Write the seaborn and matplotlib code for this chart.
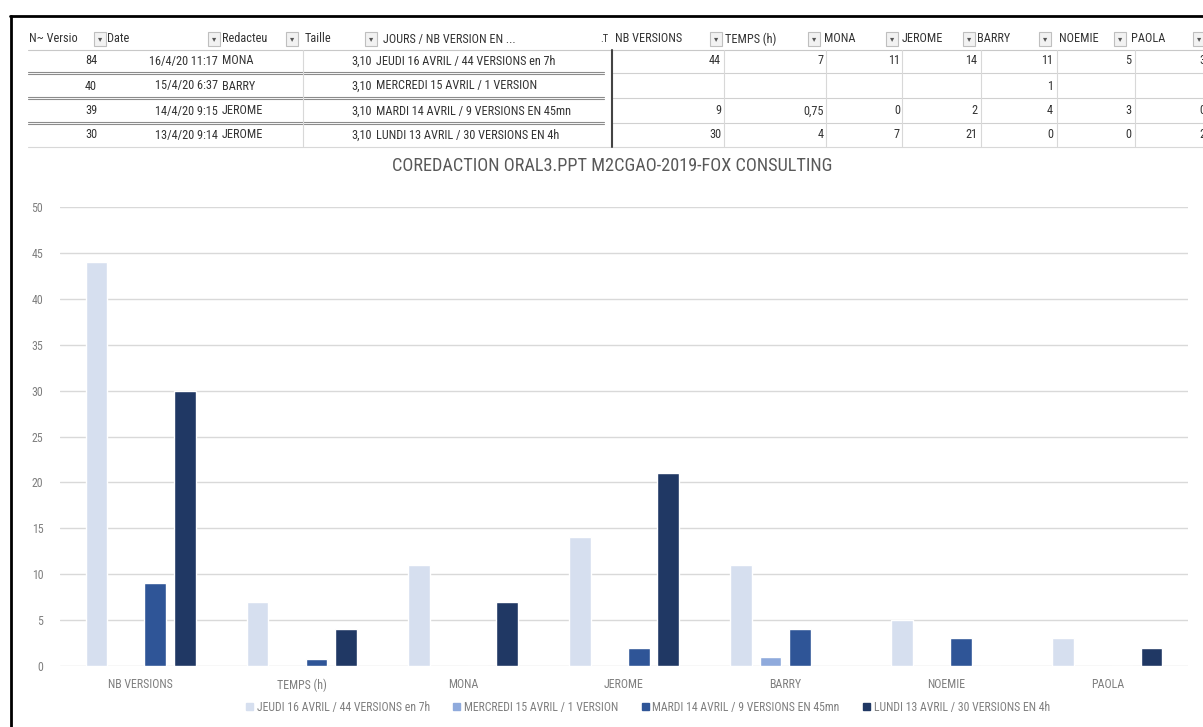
import numpy as np
import pandas as pd
import matplotlib
matplotlib.use("Agg")
import matplotlib.pyplot as plt
import seaborn as sns
from matplotlib import font_manager as fm
from matplotlib.patches import Rectangle
from matplotlib.lines import Line2D
from matplotlib.textpath import TextPath

# ---------------- data ----------------
categories = ["NB VERSIONS", "TEMPS (h)", "MONA", "JEROME", "BARRY", "NOEMIE", "PAOLA"]
series_names = [
    "JEUDI 16 AVRIL / 44 VERSIONS en 7h",
    "MERCREDI 15 AVRIL / 1 VERSION",
    "MARDI 14 AVRIL / 9 VERSIONS EN 45mn",
    "LUNDI 13 AVRIL / 30 VERSIONS EN 4h",
]
jeudi = [44, 7, 11, 14, 11, 5, 3]
mercredi = [np.nan, np.nan, np.nan, np.nan, 1, np.nan, np.nan]
mardi = [9, 0.75, 0, 2, 4, 3, 0]
lundi = [30, 4, 7, 21, 0, 0, 2]
version_nums = [84, 40, 39, 30]
dates = ["16/4/20 11:17", "15/4/20 6:37", "14/4/20 9:15", "13/4/20 9:14"]
redacteurs = ["MONA", "BARRY", "JEROME", "JEROME"]
tailles = ["3,10", "3,10", "3,10", "3,10"]
left_headers = ["N~ Versio", "Date", "Redacteu", "Taille", "JOURS / NB VERSION EN ..."]
title = "COREDACTION ORAL3.PPT M2CGAO-2019-FOX CONSULTING"
yticks = [0, 5, 10, 15, 20, 25, 30, 35, 40, 45, 50]
colors = ["#d6dfef", "#8faadc", "#2f5597", "#203864"]

# ---------------- fonts ----------------
sns.set_theme(style="white")
plt.rcParams["font.family"] = ["DejaVu Sans"]

prio = ["Roboto", "Open Sans", "Liberation", "Noto", "DejaVu"]
cands = []
for f in fm.fontManager.ttflist:
    if f.style != "normal":
        continue
    try:
        w = int(f.weight)
    except Exception:
        w = 400
    narrow = ("Condensed" in f.name or "Narrow" in f.name or
              str(f.stretch) in ("condensed", "semi-condensed", "extra-condensed"))
    if narrow and 300 <= w <= 500:
        p = next((i for i, k in enumerate(prio) if k in f.name), len(prio))
        cands.append((p, abs(w - 400), f.fname))
cands.sort()
path = cands[0][2] if cands else None
if path is None:
    for f in fm.fontManager.ttflist:
        if f.name == "Lato" and f.style == "normal" and str(f.weight) in ("400", "normal", "regular"):
            path = f.fname
            break

def FP(size):
    if path:
        return fm.FontProperties(fname=path, size=size)
    return fm.FontProperties(family="DejaVu Sans", size=size)

def fit(text, target_px):
    w = TextPath((0, 0), text, prop=FP(10)).get_extents().width * 100 / 72
    return 10 * target_px / w

sz_row = fit(series_names[0], 180)
sz_leg = fit(series_names[0], 172)
sz_title = fit(title, 440)
sz_cat = fit("NB VERSIONS", 64)

W, H = 1203, 727
fig = plt.figure(figsize=(W / 100, H / 100), dpi=100)
fig.patch.set_facecolor("white")

def fx(x):
    return x / W

def fy(y):
    return 1 - y / H

# ---------------- chart ----------------
ax = fig.add_axes([fx(60), fy(666), fx(1188) - fx(60), fy(207) - fy(666)])
series_vals = [jeudi, mercredi, mardi, lundi]
df = pd.DataFrame({
    "categorie": categories * 4,
    "serie": [s for s in series_names for _ in categories],
    "valeur": [v for vals in series_vals for v in vals],
})
sns.barplot(data=df, x="categorie", y="valeur", hue="serie", order=categories,
            hue_order=series_names, palette=colors, width=0.73, gap=0.26,
            saturation=1, errorbar=None, legend=False, ax=ax)
ax.set_ylim(0, 50)
ax.set_xlim(-0.5, len(categories) - 0.5)
ax.set_yticks(yticks)
ax.set_yticklabels([str(t) for t in yticks])
ax.yaxis.grid(True, color="#d9d9d9", linewidth=1.0)
ax.set_axisbelow(True)
for s in ax.spines.values():
    s.set_visible(False)
ax.tick_params(axis="both", length=0, colors="#7f7f7f")
ax.tick_params(axis="y", pad=12)
ax.tick_params(axis="x", pad=9)
for lbl in ax.get_xticklabels() + ax.get_yticklabels():
    lbl.set_fontproperties(FP(sz_cat))
ax.set_xlabel("")
ax.set_ylabel("")

handles = [Rectangle((0, 0), 1, 1, color=c) for c in colors]
leg = fig.legend(handles, series_names, ncol=4, loc="center",
                 bbox_to_anchor=(fx(648), fy(707)), frameon=False,
                 handlelength=0.6, handleheight=0.6, handletextpad=0.3,
                 columnspacing=2.0, prop=FP(sz_leg))
for t in leg.get_texts():
    t.set_color("#7f7f7f")

fig.text(fx(612), fy(166), title, ha="center", va="center",
         fontproperties=FP(sz_title), color="#595959")

# ---------------- spreadsheet strip ----------------
tc = "#333333"
fs = sz_row
header_y = 39
row_ys = [61, 86, 111, 135]
bounds = [50, 73, 98, 123, 147]

fig.add_artist(Line2D([fx(10), fx(1203)], [fy(16), fy(16)], color="black", lw=2))
fig.add_artist(Line2D([fx(11), fx(11)], [fy(16), fy(727)], color="black", lw=2))

def dropdown(x):
    fig.add_artist(Rectangle((fx(x - 6), fy(header_y + 7)), fx(12), fy(header_y - 7) - fy(header_y + 7),
                             facecolor="#f2f2f2", edgecolor="#bfbfbf", lw=0.8))
    fig.text(fx(x), fy(header_y), "\u25BE", ha="center", va="center", fontsize=6,
             color="#555555", family="DejaVu Sans")

left_hx = [29, 107, 222, 305, 383]
left_dd = [100, 214, 292, 371]
for x, lab in zip(left_hx, left_headers):
    fig.text(fx(x), fy(header_y), lab, ha="left", va="center", fontproperties=FP(fs), color=tc)
for x in left_dd:
    dropdown(x)
fig.text(fx(604), fy(header_y), ".T", ha="center", va="center", fontproperties=FP(fs * 0.85), color=tc)

right_hx = [615, 725, 824, 902, 977, 1059, 1131]
right_dd = [716, 814, 892, 969, 1045, 1120, 1199]
for x, lab in zip(right_hx, categories):
    fig.text(fx(x), fy(header_y), lab, ha="left", va="center", fontproperties=FP(fs), color=tc)
for x in right_dd:
    dropdown(x)

for i, y in enumerate(row_ys):
    fig.text(fx(97), fy(y), str(version_nums[i]), ha="right", va="center", fontproperties=FP(fs), color=tc)
    fig.text(fx(218), fy(y), dates[i], ha="right", va="center", fontproperties=FP(fs), color=tc)
    fig.text(fx(222), fy(y), redacteurs[i], ha="left", va="center", fontproperties=FP(fs), color=tc)
    fig.text(fx(372), fy(y), tailles[i], ha="right", va="center", fontproperties=FP(fs), color=tc)
    fig.text(fx(376), fy(y), series_names[i], ha="left", va="center", fontproperties=FP(fs), color=tc)

def fmt(v):
    if v is None or (isinstance(v, float) and np.isnan(v)):
        return ""
    if float(v).is_integer():
        return str(int(v))
    return str(v).replace(".", ",")

val_right = [721, 824, 900, 977, 1053, 1131]
for i, y in enumerate(row_ys):
    vals = series_vals[i]
    for j, xr in enumerate(val_right):
        fig.text(fx(xr), fy(y), fmt(vals[j]), ha="right", va="center", fontproperties=FP(fs), color=tc)
    # PAOLA column is cut by the right edge of the screenshot: only its left sliver shows
    pv = fmt(vals[6])
    if pv:
        fig.text(fx(1199), fy(y), pv[0], ha="left", va="center", fontproperties=FP(fs), color=tc)

fig.add_artist(Line2D([fx(28), fx(1203)], [fy(bounds[0]), fy(bounds[0])], color="#c8c8c8", lw=0.8))
for b in bounds[1:4]:
    for off in (-1, 1):
        fig.add_artist(Line2D([fx(28), fx(604)], [fy(b + off), fy(b + off)], color="#8c8c8c", lw=0.8))
    fig.add_artist(Line2D([fx(612), fx(1203)], [fy(b), fy(b)], color="#d0d0d0", lw=0.8))
fig.add_artist(Line2D([fx(28), fx(1203)], [fy(bounds[4]), fy(bounds[4])], color="#d8d8d8", lw=0.8))
fig.add_artist(Line2D([fx(303), fx(303)], [fy(bounds[0]), fy(bounds[4])], color="#d8d8d8", lw=0.8))
fig.add_artist(Line2D([fx(612), fx(612)], [fy(bounds[0]), fy(bounds[4])], color="#444444", lw=1.5))
for xv in [724, 826, 902, 981, 1057, 1135]:
    fig.add_artist(Line2D([fx(xv), fx(xv)], [fy(bounds[0]), fy(bounds[4])], color="#d8d8d8", lw=0.8))

fig.savefig("out.png", dpi=100, facecolor="white")
